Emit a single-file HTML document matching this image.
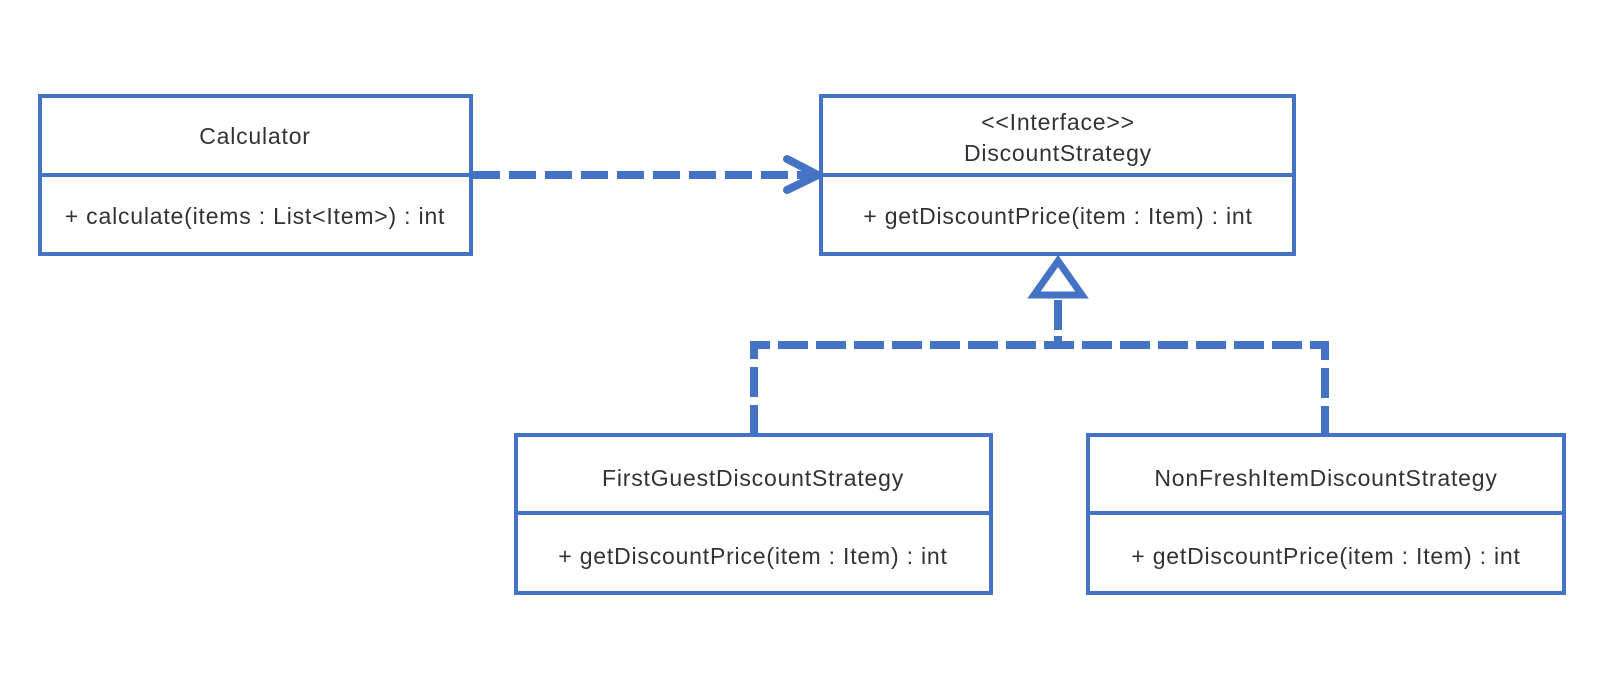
<!DOCTYPE html>
<html><head><style>
html,body{margin:0;padding:0;background:#fff;}
svg text{font-family:"Liberation Sans",sans-serif;font-size:23px;letter-spacing:0.8px;fill:#333;}
</style></head><body>
<svg width="1614" height="691" viewBox="0 0 1614 691" xmlns="http://www.w3.org/2000/svg">
<g fill="none" stroke="#4472C4" stroke-width="4">
<rect x="40" y="96" width="431" height="158"/><line x1="40" y1="175" x2="471" y2="175"/>
<rect x="821" y="96" width="473" height="158"/><line x1="821" y1="175" x2="1294" y2="175"/>
<rect x="516" y="435" width="475" height="158"/><line x1="516" y1="513" x2="991" y2="513"/>
<rect x="1088" y="435" width="476" height="158"/><line x1="1088" y1="513" x2="1564" y2="513"/>
</g>
<g fill="none" stroke="#4472C4" stroke-width="8">
<line x1="473" y1="175" x2="812" y2="175" stroke-dasharray="27 9"/>
<polyline points="787,159 818,175 787,190" stroke-linecap="round" stroke-linejoin="round"/>
<line x1="1058" y1="300" x2="1058" y2="345" stroke-dasharray="30 6"/>
<polyline points="754,435 754,345 1325,345 1325,435" stroke-dasharray="30 8"/>
<polygon points="1058,261 1034,295 1082,295" stroke-width="7"/>
</g>
<g text-anchor="middle">
<text x="255" y="144">Calculator</text>
<text x="255" y="224">+ calculate(items : List&lt;Item&gt;) : int</text>
<text x="1058" y="130">&lt;&lt;Interface&gt;&gt;</text>
<text x="1058" y="161">DiscountStrategy</text>
<text x="1058" y="224">+ getDiscountPrice(item : Item) : int</text>
<text x="753" y="486">FirstGuestDiscountStrategy</text>
<text x="753" y="564">+ getDiscountPrice(item : Item) : int</text>
<text x="1326" y="486">NonFreshItemDiscountStrategy</text>
<text x="1326" y="564">+ getDiscountPrice(item : Item) : int</text>
</g>
</svg>
</body></html>
